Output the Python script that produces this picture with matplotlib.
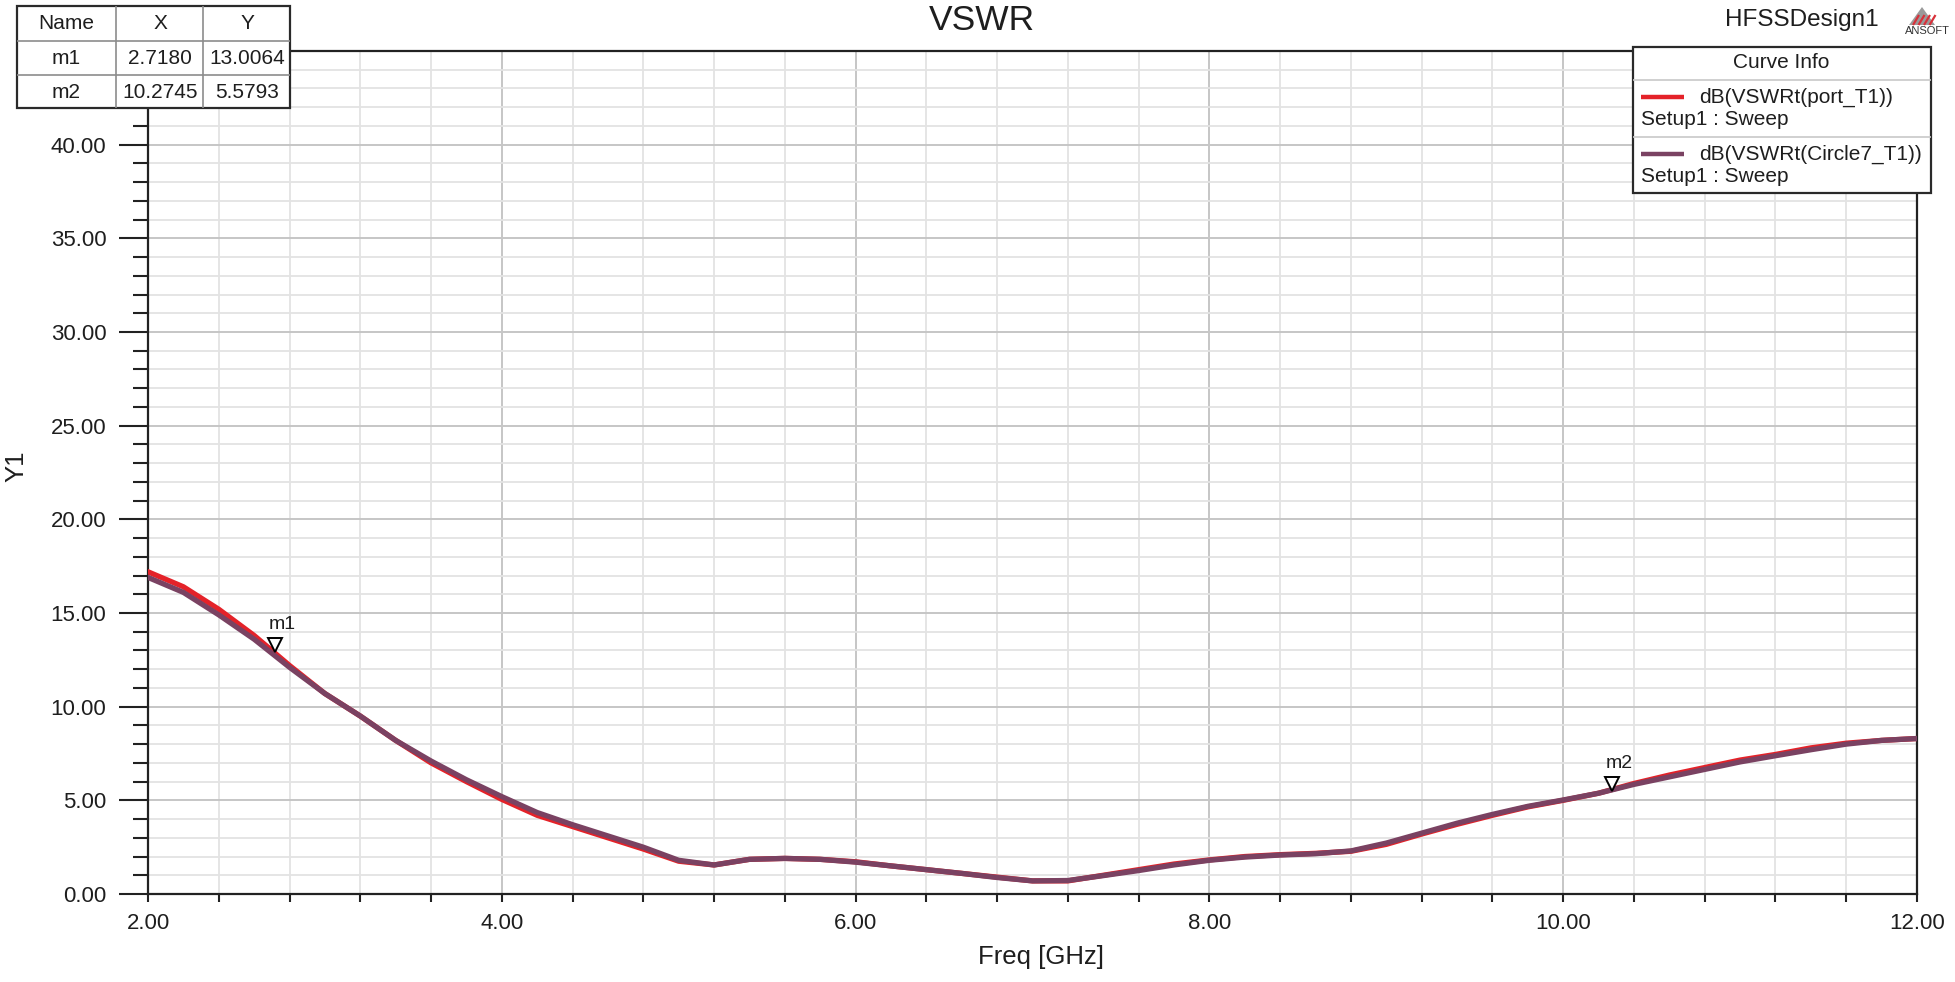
import matplotlib
matplotlib.use("Agg")
import matplotlib.pyplot as plt
from matplotlib.patches import Rectangle, Polygon
from matplotlib.lines import Line2D
from matplotlib.ticker import MultipleLocator, FormatStrFormatter
from matplotlib.transforms import offset_copy

# values, dB(VSWR) vs frequency
freq = [2.0, 2.2, 2.4, 2.6, 2.8, 3.0, 3.2, 3.4, 3.6, 3.8,
        4.0, 4.2, 4.4, 4.6, 4.8, 5.0, 5.2, 5.4, 5.6, 5.8,
        6.0, 6.2, 6.4, 6.6, 6.8, 7.0, 7.2, 7.4, 7.6, 7.8,
        8.0, 8.2, 8.4, 8.6, 8.8, 9.0, 9.2, 9.4, 9.6, 9.8,
        10.0, 10.2, 10.4, 10.6, 10.8, 11.0, 11.2, 11.4, 11.6, 11.8, 12.0]
port_t1 = [17.2, 16.4, 15.2, 13.8, 12.2, 10.7, 9.5, 8.2, 7.0, 6.0,
           5.05, 4.2, 3.6, 3.0, 2.4, 1.75, 1.55, 1.85, 1.9, 1.85,
           1.72, 1.5, 1.3, 1.1, 0.9, 0.7, 0.7, 1.0, 1.3, 1.6,
           1.82, 2.0, 2.1, 2.17, 2.28, 2.65, 3.2, 3.72, 4.2, 4.65,
           5.0, 5.38, 5.9, 6.35, 6.75, 7.15, 7.45, 7.8, 8.05, 8.2, 8.3]
circle7_t1 = [16.9, 16.1, 14.9, 13.6, 12.1, 10.7, 9.5, 8.2, 7.1, 6.1,
              5.2, 4.35, 3.7, 3.1, 2.5, 1.8, 1.55, 1.85, 1.9, 1.85,
              1.7, 1.5, 1.3, 1.1, 0.88, 0.7, 0.72, 0.98, 1.25, 1.55,
              1.8, 1.97, 2.08, 2.15, 2.3, 2.72, 3.25, 3.78, 4.25, 4.68,
              5.02, 5.38, 5.85, 6.25, 6.65, 7.05, 7.38, 7.7, 8.0, 8.2, 8.3]
marker_names = ["m1", "m2"]
marker_x = [2.7180, 10.2745]
marker_y = [13.0064, 5.5793]
curve_names = ["dB(VSWRt(port_T1))", "dB(VSWRt(Circle7_T1))"]
curve_colors = ["#e42229", "#7a4262"]

W, H = 1955, 982
plt.rcParams["font.family"] = ["Liberation Sans", "DejaVu Sans"]
TXT = "#1e1e1e"
BOX_FS = 15


def fx(px):
    return px / W


def fy(py):
    return 1 - py / H


def fig_line(fig, x0, y0, x1, y1, color, lw):
    fig.add_artist(Line2D([fx(x0), fx(x1)], [fy(y0), fy(y1)], transform=fig.transFigure,
                          color=color, lw=lw, solid_capstyle="butt", zorder=5))


def fig_box(fig, x0, y0, x1, y1, edge="#2a2a2a", lw=1.6):
    fig.add_artist(Rectangle((fx(x0), fy(y1)), fx(x1) - fx(x0), fy(y0) - fy(y1),
                             transform=fig.transFigure, facecolor="white",
                             edgecolor=edge, lw=lw, zorder=4))


def fig_text(fig, x, y, s, ha="center", size=BOX_FS, color=TXT):
    fig.text(fx(x), fy(y), s, ha=ha, va="center", fontsize=size, color=color, zorder=6)


fig = plt.figure(figsize=(W / 100, H / 100), dpi=100)
ax = fig.add_axes([fx(148), fy(894), fx(1917) - fx(148), fy(51) - fy(894)])

for vals, color in zip([port_t1, circle7_t1], curve_colors):
    ax.plot(freq, vals, color=color, lw=3.8, solid_joinstyle="round", zorder=3)

ax.set_xlim(2, 12)
ax.set_ylim(0, 45)
ax.xaxis.set_major_locator(MultipleLocator(2))
ax.xaxis.set_minor_locator(MultipleLocator(0.4))
ax.yaxis.set_major_locator(MultipleLocator(5))
ax.yaxis.set_minor_locator(MultipleLocator(1))
ax.xaxis.set_major_formatter(FormatStrFormatter("%.2f"))
ax.yaxis.set_major_formatter(FormatStrFormatter("%.2f"))
ax.set_yticks([0, 5, 10, 15, 20, 25, 30, 35, 40])

ax.grid(which="major", color="#c6c6c6", lw=1.4, zorder=0)
ax.grid(which="minor", color="#e3e3e3", lw=1.3, zorder=0)
ax.set_axisbelow(True)

ax.tick_params(axis="y", which="major", length=21, width=1.5, pad=9, labelsize=16,
               color="#222222", labelcolor=TXT)
ax.tick_params(axis="y", which="minor", length=10.5, width=1.5, color="#222222")
ax.tick_params(axis="x", which="both", length=6, width=1.5, pad=8, labelsize=16,
               color="#222222", labelcolor=TXT)
for sp in ax.spines.values():
    sp.set_color("#222222")
    sp.set_linewidth(1.6)

ax.set_xlabel("Freq [GHz]", fontsize=18.5, color=TXT)
ax.xaxis.set_label_coords(0.505, -0.060)
ax.set_ylabel("Y1", fontsize=18.5, color=TXT)
ax.yaxis.set_label_coords(-0.0746, 0.508)
ax.yaxis.label.set_va("center")

# markers m1 / m2
tri = offset_copy(ax.transData, fig=fig, x=0, y=5, units="dots")
for name, mx, my in zip(marker_names, marker_x, marker_y):
    ax.plot([mx], [my], marker="v", ms=10, mfc="white", mec="black", mew=1.4,
            transform=tri, zorder=4, clip_on=False)
    ax.annotate(name, (mx, my), xytext=(-4.5, 12.5), textcoords="offset points",
                ha="left", va="bottom", fontsize=14, color=TXT)

# title and design name
fig_text(fig, 982, 20, "VSWR", size=25.5)
fig_text(fig, 1802, 20, "HFSSDesign1", size=17.5)
fig_text(fig, 1927, 31, "ANSOFT", size=8, color="#333333")
fig.add_artist(Polygon([[fx(1909), fy(25)], [fx(1935), fy(25)], [fx(1922), fy(7)]],
                       closed=True, transform=fig.transFigure, facecolor="#9a9a9a",
                       edgecolor="none", zorder=5))
for k in range(4):
    x0 = 1913 + k * 5.5
    fig_line(fig, x0, 25, x0 + 6, 15, "#d8313a", 1.6)

# marker table
fig_box(fig, 17, 6, 290, 108)
for xc in [116, 203]:
    fig_line(fig, xc, 6, xc, 108, "#8c8c8c", 1.2)
for yr in [41, 75]:
    fig_line(fig, 17, yr, 290, yr, "#8c8c8c", 1.2)
col_x = [66.5, 160, 247]
for cx, head in zip(col_x, ["Name", "X", "Y"]):
    fig_text(fig, cx, 23.5, head)
for i, (name, mx, my) in enumerate(zip(marker_names, marker_x, marker_y)):
    yc = 58 + i * 34
    fig_text(fig, col_x[0], yc, name)
    fig_text(fig, col_x[1], yc, f"{mx:.4f}")
    fig_text(fig, col_x[2], yc, f"{my:.4f}")

# curve info box
fig_box(fig, 1633, 47, 1931, 193)
fig_line(fig, 1633, 80, 1931, 80, "#c8c8c8", 1.2)
fig_line(fig, 1633, 137, 1931, 137, "#c8c8c8", 1.2)
fig_text(fig, 1781, 63, "Curve Info")
for i, (name, color) in enumerate(zip(curve_names, curve_colors)):
    y_top = 97 + i * 57
    fig_line(fig, 1641, y_top, 1684, y_top, color, 3.2)
    fig_text(fig, 1699, y_top, name, ha="left")
    fig_text(fig, 1641, y_top + 23, "Setup1 : Sweep", ha="left")

fig.savefig("out.png", dpi=100)
